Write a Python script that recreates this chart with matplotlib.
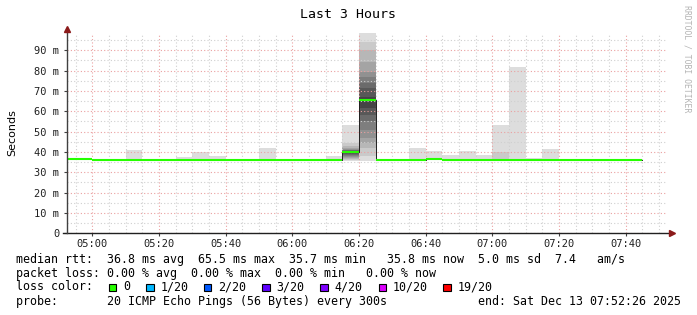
import datetime as dt
import numpy as np
import matplotlib
matplotlib.use("Agg")
import matplotlib.pyplot as plt
import matplotlib.dates as mdates
from matplotlib.patches import Rectangle

# ---- data (ms) ----
bin_start = ["04:50", "04:55", "05:00", "05:05", "05:10", "05:15", "05:20",
             "05:25", "05:30", "05:35", "05:40", "05:45", "05:50", "05:55",
             "06:00", "06:05", "06:10", "06:15", "06:20", "06:25", "06:30",
             "06:35", "06:40", "06:45", "06:50", "06:55", "07:00", "07:05",
             "07:10", "07:15", "07:20", "07:25", "07:30", "07:35", "07:40"]
median_ms = [36.4, 36.4, 35.8, 35.8, 35.8, 35.8, 35.8,
             35.8, 35.8, 35.8, 35.8, 35.8, 35.8, 35.8,
             35.8, 35.8, 35.8, 39.9, 65.5, 35.8, 35.8,
             35.8, 36.3, 35.9, 35.8, 35.8, 35.8, 35.8,
             35.8, 35.8, 35.8, 35.8, 35.8, 35.8, 35.8]
max_ms = [36.4, 36.4, 36.7, 36.7, 40.9, 35.9, 35.9,
          37.5, 40.0, 38.0, 35.9, 36.6, 42.0, 35.9,
          35.9, 35.9, 38.0, 53.3, 98.3, 35.9, 36.6,
          42.0, 40.4, 38.6, 40.4, 38.6, 53.2, 81.8,
          37.0, 41.4, 35.9, 35.9, 35.9, 35.9, 35.9]

# sorted 20 pings for the bins where inner smoke bands are visible
pings_0615 = [35.4, 35.9, 36.3, 36.8, 37.3, 37.8, 38.3, 38.8, 39.3, 39.8,
              40.0, 40.2, 40.5, 40.8, 41.0, 41.5, 42.0, 43.0, 44.3, 53.3]
pings_0620 = [35.6, 37.8, 41.9, 44.3, 46.8, 50.9, 55.0, 58.0, 61.7, 65.2,
              65.8, 67.0, 71.3, 73.8, 77.0, 79.5, 84.4, 90.1, 94.2, 98.3]
pings_0700 = [35.6] + [35.8] * 17 + [40.0, 53.2]
detail = {"06:15": pings_0615, "06:20": pings_0620, "07:00": pings_0700}

loss_labels = ["0", "1/20", "2/20", "3/20", "4/20", "10/20", "19/20"]
loss_colors = ["#26ff00", "#00b8ff", "#0059ff", "#5e00ff", "#7e00ff", "#dd00ff", "#ff0000"]

title = "Last 3 Hours"
day = dt.datetime(2025, 12, 13)
t_end = day.replace(hour=7, minute=52, second=26)
t_start = t_end - dt.timedelta(hours=3)
step = 5 / 1440.0

W, H = 697, 315
mono = "DejaVu Sans Mono"
fig = plt.figure(figsize=(W / 100, H / 100), dpi=100)
fig.patch.set_facecolor("white")
ax = fig.add_axes([67 / W, (H - 233.3) / H, 600 / W, 200 / H])

x0 = np.array([mdates.date2num(dt.datetime.combine(day.date(), dt.time(int(s[:2]), int(s[3:]))))
               for s in bin_start])
pings = []
for k, s in enumerate(bin_start):
    if s in detail:
        pings.append(detail[s])
    else:
        pings.append([median_ms[k]] * 19 + [max_ms[k]])
pings = np.array(pings)

# smoke: 10 nested bands, outer light -> inner dark
for i in range(10):
    g = int(190 / 10 * (10 - (i + 1))) + 50
    col = "#%02x%02x%02x" % (g, g, g)
    lo = pings[:, i]
    hi = pings[:, 19 - i]
    ax.bar(x0, hi - lo, bottom=lo, width=step, align="edge", color=col,
           linewidth=0, zorder=1)

# median: thin dark step line, then green loss-colour segments
xs = np.append(x0, x0[-1] + step)
ys = np.append(median_ms, median_ms[-1])
ax.step(xs, ys, where="post", color="#202020", lw=0.7, zorder=3)
ax.hlines(median_ms, x0, x0 + step, colors=loss_colors[0], lw=1.5, zorder=4)

ax.set_xlim(mdates.date2num(t_start), mdates.date2num(t_end))
ax.set_ylim(0, 98.3)

ax.xaxis.set_major_locator(mdates.MinuteLocator(byminute=[0, 20, 40]))
ax.xaxis.set_minor_locator(mdates.MinuteLocator(byminute=range(0, 60, 5)))
ax.xaxis.set_major_formatter(mdates.DateFormatter("%H:%M"))
ax.set_yticks(np.arange(0, 100, 10))
ax.set_yticks(np.arange(5, 100, 10), minor=True)
ax.set_yticklabels(["0"] + ["%d m" % v for v in range(10, 100, 10)])

ax.set_axisbelow(False)
ax.grid(which="minor", color="#cfcfcf", ls=(0, (1, 2)), lw=0.8)
ax.grid(which="major", color="#eaa0a0", ls=(0, (1, 2)), lw=0.8)
for sp in ax.spines.values():
    sp.set_visible(False)
ax.tick_params(which="major", length=2, width=0.8, color="#404040",
               labelsize=7.5, labelcolor="#202020")
ax.tick_params(which="minor", length=0)
ax.tick_params(axis="y", pad=3.6)
ax.tick_params(axis="x", pad=2.2)
for lab in ax.get_xticklabels() + ax.get_yticklabels():
    lab.set_family(mono)

# axis lines with arrow heads
ax.plot([-4 / 600, 1 + 3 / 600], [0, 0], transform=ax.transAxes, color="#202020",
        lw=1, clip_on=False, zorder=5)
ax.plot([0, 0], [0, 1 + 2 / 200], transform=ax.transAxes, color="#404040",
        lw=1, clip_on=False, zorder=5)
ax.plot([1 + 5 / 600], [0], transform=ax.transAxes, marker=">", ms=4.5,
        color="#8b1a1a", clip_on=False, zorder=6)
ax.plot([0], [1 + 4 / 200], transform=ax.transAxes, marker="^", ms=4.5,
        color="#8b1a1a", clip_on=False, zorder=6)

def ftxt(x, y, s, **kw):
    kw.setdefault("family", mono)
    kw.setdefault("fontsize", 8.4)
    kw.setdefault("va", "center")
    fig.text(x / W, 1 - y / H, s, **kw)

ftxt(348, 14, title, ha="center", fontsize=9.5)
ftxt(12, 133, "Seconds", ha="center", rotation=90, family="DejaVu Sans", fontsize=8)
ftxt(687, 59, "RRDTOOL / TOBI OETIKER", ha="center", rotation=270,
     fontsize=5.9, color="#b4b4b4")

ftxt(16, 260, "median rtt:  36.8 ms avg  65.5 ms max  35.7 ms min   35.8 ms now  5.0 ms sd  7.4   am/s")
ftxt(16, 273.5, "packet loss: 0.00 % avg  0.00 % max  0.00 % min   0.00 % now")
ftxt(16, 287, "loss color:")
box_x = [108.5, 146, 203.5, 262, 320, 378.5, 443]
for bx, lab, col in zip(box_x, loss_labels, loss_colors):
    fig.add_artist(Rectangle((bx / W, 1 - 291 / H), 7.5 / W, 7.5 / H,
                             transform=fig.transFigure, facecolor=col,
                             edgecolor="black", lw=0.8))
    ftxt(bx + 14.5, 287, lab)
ftxt(16, 301.5, "probe:       20 ICMP Echo Pings (56 Bytes) every 300s")
ftxt(681, 301.5, "end: Sat Dec 13 07:52:26 2025", ha="right")

fig.savefig("out.png", dpi=100, facecolor="white")
